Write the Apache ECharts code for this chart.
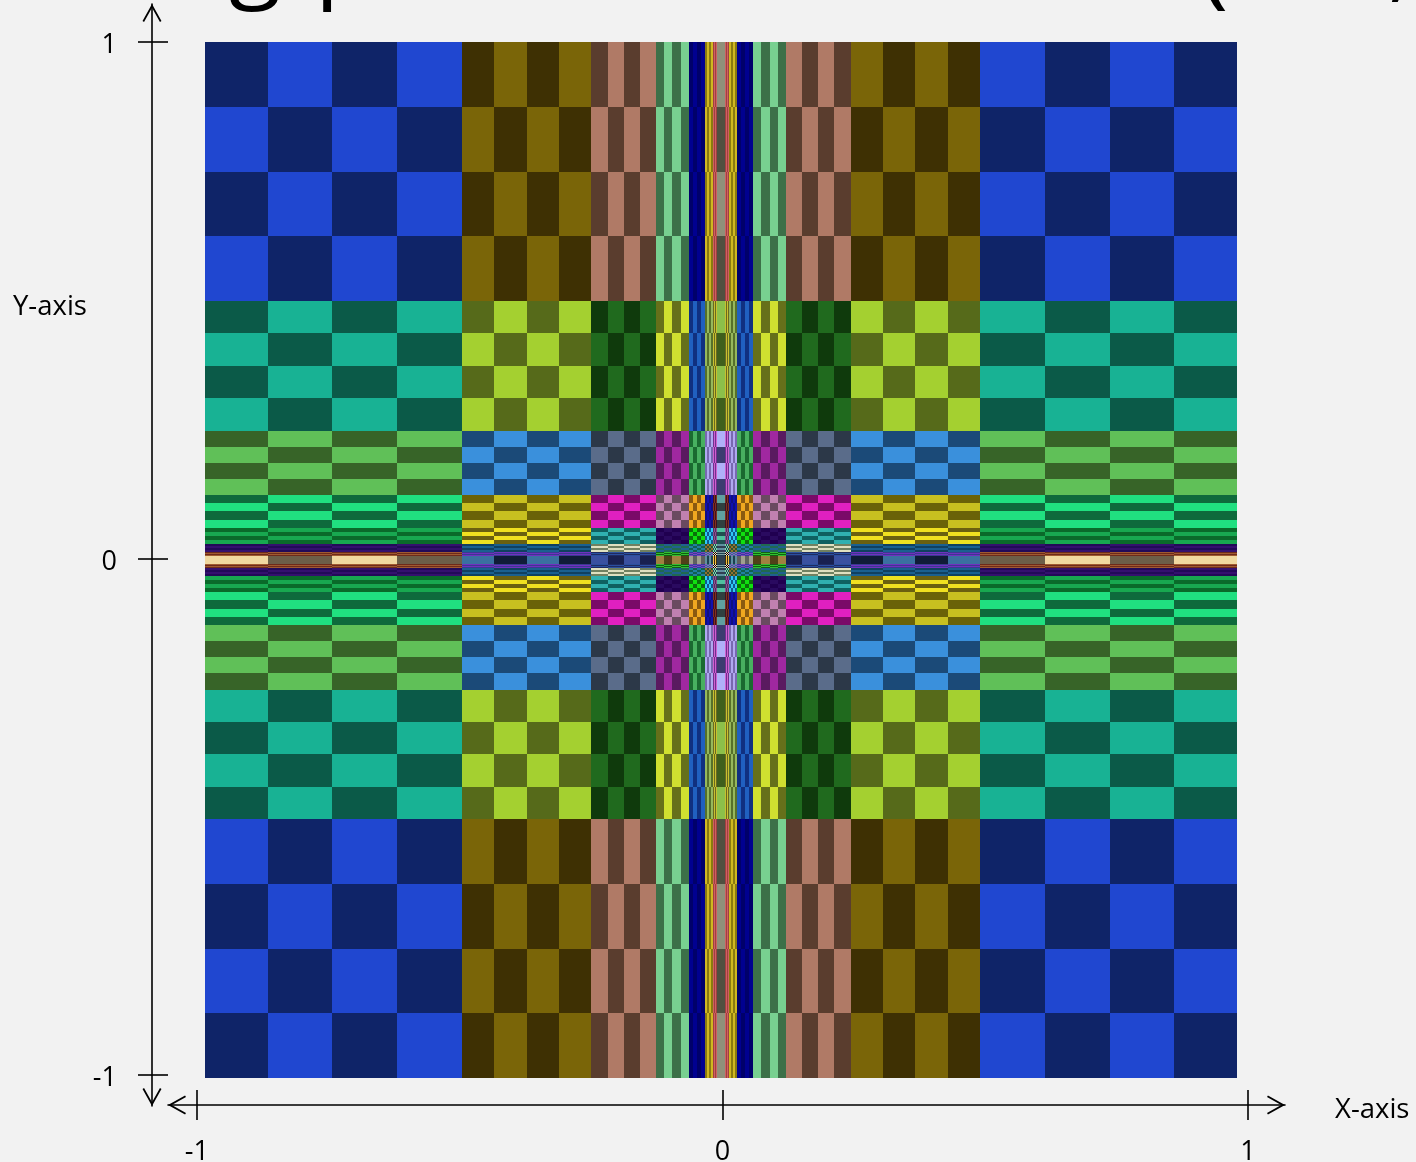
<!DOCTYPE html>
<html>

<head>
	<meta charset="utf-8">
	<title>Checkerboard</title>
	<style>
		html, body { margin: 0; padding: 0; background: #f2f2f2; overflow: hidden; }
		#chart { width: 1416px; height: 1162px; }
	</style>
</head>

<body>
	<div id="chart"></div>
	<script src="https://cdn.jsdelivr.net/npm/echarts@6/dist/echarts.min.js"></script>
	<script>
		// band edges on |x| and |y|, outermost first
		var bandEdges = [1, 1 / 2, 1 / 4, 1 / 8, 1 / 16, 1 / 32, 1 / 64, 1 / 128, 0];
		// how many strips each band is split in; the innermost one is too thin to split
		var bandStrips = [4, 4, 4, 4, 4, 4, 4, 1];
		var axisTicks = [-1, 0, 1];

		// colours, row = y band, column = x band
		var darkCells = [
			['#0f2468', '#3e3003', '#5a3d2e', '#3c7048', '#00006a', '#8a7a10', '#a04040', '#505040'],
			['#0b5a48', '#566a1a', '#0f3a0c', '#66701a', '#103080', '#56702a', '#6a6a20', '#3f5f1c'],
			['#376428', '#1b4a78', '#2c3848', '#5a1a60', '#1a6a30', '#7868b0', '#703090', '#3c3c70'],
			['#0e6a3c', '#6a6208', '#7a0a68', '#6a4a60', '#8a5a10', '#101080', '#401020', '#304040'],
			['#0a6a2a', '#6a6010', '#0f6060', '#200050', '#0a700a', '#105a90', '#503060', '#205050'],
			['#220a58', '#104060', '#708060', '#206a50', '#106050', '#305030', '#204060', '#304050'],
			['#6e2a1a', '#3a3a90', '#202a60', '#106010', '#3040a0', '#208090', '#100000', '#204050'],
			['#6c5e48', '#101c38', '#182050', '#504018', '#606060', '#204050', '#403010', '#304050']
		];
		var lightCells = [
			['#2047d0', '#7a6508', '#b07a66', '#78d090', '#000090', '#d0b820', '#d06060', '#90907a'],
			['#18b294', '#a4d030', '#206a1e', '#d0e030', '#2060c0', '#96b85c', '#c8c030', '#8cc04a'],
			['#60c058', '#3a90dc', '#5a6c8a', '#a028a0', '#48b060', '#b0a8f0', '#d060d0', '#b0b0f8'],
			['#20e080', '#c8c020', '#e020c0', '#c080b0', '#f0a820', '#1010b0', '#803020', '#60a0a0'],
			['#18a850', '#f0e020', '#30b0b0', '#2a0a60', '#10e010', '#30c8f8', '#905090', '#50c0a0'],
			['#34106e', '#1a6090', '#e0e0c0', '#206090', '#2080a0', '#907030', '#80e0a0', '#6090a0'],
			['#a05a30', '#7030c0', '#2a50a0', '#30c030', '#8040c0', '#a050c0', '#f0e0c0', '#80a0a0'],
			['#f0d8a0', '#3a70a0', '#3a50a0', '#a08040', '#a0a090', '#6090a0', '#f0c040', '#508090']
		];

		// strips of one half, outermost first: [outer edge, inner edge, band, parity]
		var strips = [];
		for (var b = 0; b < bandEdges.length - 1; b++) {
			var count = bandStrips[b];
			var step = (bandEdges[b] - bandEdges[b + 1]) / count;
			for (var s = 0; s < count; s++) {
				// a single strip counts as odd, it starts light against the outer strip
				strips.push([bandEdges[b] - s * step, bandEdges[b] - (s + 1) * step, b, count === 1 ? 1 : s]);
			}
		}

		// one item per cell, in all four quadrants
		var cells = [];
		var signs = [-1, 1];
		signs.forEach(function (sx) {
			signs.forEach(function (sy) {
				strips.forEach(function (cx) {
					strips.forEach(function (cy) {
						cells.push([sx * cx[0], sx * cx[1], sy * cy[0], sy * cy[1], cx[2], cy[2], (cx[3] + cy[3]) % 2]);
					});
				});
			});
		});

		function renderCell(params, api) {
			var a = api.coord([api.value(0), api.value(2)]);
			var c = api.coord([api.value(1), api.value(3)]);
			var x0 = Math.round(Math.min(a[0], c[0]));
			var x1 = Math.round(Math.max(a[0], c[0]));
			var y0 = Math.round(Math.min(a[1], c[1]));
			var y1 = Math.round(Math.max(a[1], c[1]));
			if (x1 === x0 || y1 === y0) return null;
			var table = api.value(6) ? lightCells : darkCells;
			return {
				type: 'rect',
				shape: { x: x0, y: y0, width: x1 - x0, height: y1 - y0 },
				style: { fill: table[api.value(5)][api.value(4)] }
			};
		}

		var arrowHead = 'path://M0,18 L10,0 L20,18 L18.4,19 L10,4 L1.6,19 Z';
		var textFont = 'Open Sans';
		var axisPen = { color: '#000', width: 1.6 };

		function tickLabel(v) {
			return '{t|' + v + '}';
		}

		// the drawn axes: line and labels on one, the other only adds the inner half of the ticks
		function drawnAxis(gridIndex, position, min, max, inside, length, labelMargin, labelPadding) {
			return {
				type: 'value',
				gridIndex: gridIndex,
				position: position,
				min: min,
				max: max,
				splitLine: { show: false },
				axisLine: {
					show: !inside,
					onZero: false,
					lineStyle: axisPen,
					symbol: [arrowHead, arrowHead],
					symbolSize: [20, 18],
					symbolOffset: [9, -9]
				},
				axisTick: {
					show: true,
					inside: inside,
					length: length,
					lineStyle: axisPen,
					customValues: axisTicks
				},
				axisLabel: {
					show: !inside,
					margin: labelMargin,
					formatter: tickLabel,
					customValues: axisTicks,
					rich: {
						t: {
							color: '#000',
							fontFamily: textFont,
							fontSize: 27,
							padding: labelPadding
						}
					}
				}
			};
		}

		function hiddenAxis(gridIndex, min, max) {
			return { type: 'value', gridIndex: gridIndex, min: min, max: max, show: false };
		}

		function floatingText(text, left, top, size) {
			return {
				text: text,
				left: left,
				top: top,
				padding: 0,
				textStyle: {
					color: '#000',
					fontFamily: textFont,
					fontWeight: 'normal',
					fontSize: size,
					lineHeight: size
				}
			};
		}

		var chart = echarts.init(document.getElementById('chart'));
		chart.setOption({
			animation: false,
			backgroundColor: '#f2f2f2',
			title: [
				floatingText('Y-axis', 13, 293, 27.5),
				floatingText('X-axis', 1335, 1096, 27.5),
				floatingText('g', 229, -86, 96),
				floatingText('p', 315, -86, 96),
				floatingText('(', 1200, -79, 96),
				floatingText(',', 1388, -85, 96)
			],
			grid: [
				{ left: 205, top: 42, width: 1032, height: 1036, outerBoundsMode: 'none' },
				{ left: 168, top: 1095, width: 1117, height: 10, outerBoundsMode: 'none' },
				{ left: 152, top: 4, width: 10, height: 1102, outerBoundsMode: 'none' }
			],
			xAxis: [
				hiddenAxis(0, -0.9961, 0.9961),
				drawnAxis(1, 'bottom', -1.055, 1.0704, false, 15, 34, 0),
				drawnAxis(1, 'bottom', -1.055, 1.0704, true, 15, 0, 0),
				hiddenAxis(2, -1, 1)
			],
			yAxis: [
				hiddenAxis(0, -1, 1),
				hiddenAxis(1, -1, 1),
				drawnAxis(2, 'left', -1.06, 1.0736, false, 14, 35, [7, 0, 0, 0]),
				drawnAxis(2, 'left', -1.06, 1.0736, true, 16, 0, 0)
			],
			series: [{
				type: 'custom',
				xAxisIndex: 0,
				yAxisIndex: 0,
				renderItem: renderCell,
				progressive: 0,
				silent: true,
				clip: true,
				encode: { x: [0, 1], y: [2, 3] },
				data: cells
			}]
		});
	</script>
</body>

</html>
